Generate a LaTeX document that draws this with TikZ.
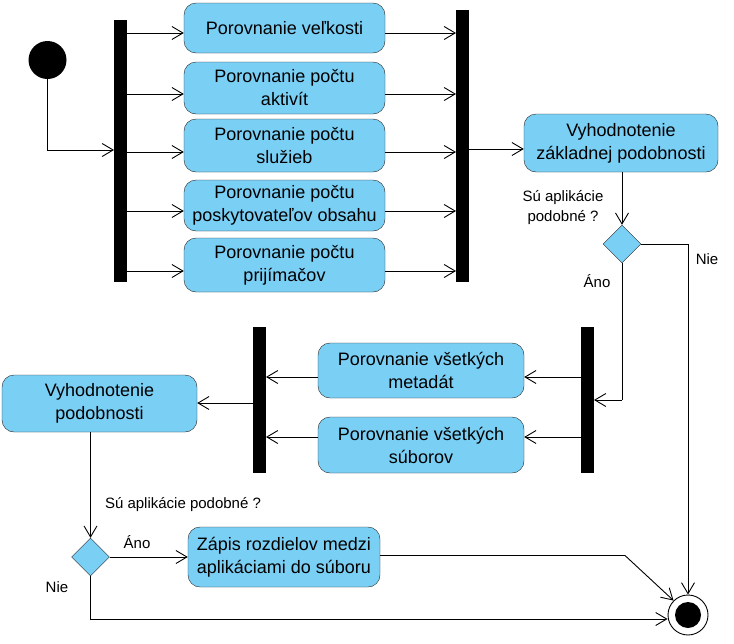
\documentclass[tikz,border=0pt]{standalone}
\usepackage{fontspec}
\setmainfont{Liberation Sans}
\usetikzlibrary{arrows.meta,shapes.geometric}
\definecolor{actblue}{RGB}{122,207,245}

\tikzset{
  activity/.style={draw=black!85,fill=actblue,rounded corners=12pt,align=center,
    font=\fontsize{18}{23}\selectfont,inner sep=0pt},
  bar/.style={fill=black,draw=none},
  decision/.style={diamond,draw=black!85,fill=actblue,minimum width=38pt,minimum height=38pt,inner sep=0pt},
  flow/.style={-{Straight Barb[length=11pt,width=13pt]},line width=0.9pt},
  guard/.style={font=\fontsize{15}{20}\selectfont,align=center},
}

\begin{document}
\begin{tikzpicture}[x=1pt,y=-1pt]
\useasboundingbox (0,0) rectangle (734,643);

% start, end
\node[circle,fill=black,minimum size=38pt,inner sep=0pt] (start) at (47.5,60) {};
\node[circle,draw=black,line width=0.9pt,fill=white,minimum size=40pt,inner sep=0pt] (final) at (688,615) {};
\fill (final) circle (13pt);

% fork / join bars
\fill[bar] (114,20) rectangle (127,282);
\fill[bar] (456,10) rectangle (469,282);
\fill[bar] (581,327) rectangle (594,473);
\fill[bar] (253,327) rectangle (266,473);

% first block of activities
\node[activity,minimum width=201pt,minimum height=50pt] (size) at (284.5,28) {Porovnanie veľkosti};
\node[activity,minimum width=201pt,minimum height=52pt] (act) at (284.5,88) {Porovnanie počtu\\aktivít};
\node[activity,minimum width=201pt,minimum height=53pt] (serv) at (284.5,145.5) {Porovnanie počtu\\služieb};
\node[activity,minimum width=201pt,minimum height=51pt] (prov) at (284.5,205.5) {Porovnanie počtu\\poskytovateľov obsahu};
\node[activity,minimum width=201pt,minimum height=54pt] (recv) at (284.5,265) {Porovnanie počtu\\prijímačov};

\node[activity,minimum width=194pt,minimum height=58pt] (basic) at (621,143) {Vyhodnotenie\\základnej podobnosti};
\node[decision] (dec1) at (622,244) {};

% second block
\node[activity,minimum width=206pt,minimum height=55pt] (meta) at (421,370.5) {Porovnanie všetkých\\metadát};
\node[activity,minimum width=206pt,minimum height=56pt] (files) at (421,445) {Porovnanie všetkých\\súborov};
\node[activity,minimum width=195pt,minimum height=57pt] (eval) at (99.5,403.5) {Vyhodnotenie\\podobnosti};
\node[decision] (dec2) at (90.5,557) {};
\node[activity,minimum width=192pt,minimum height=60pt] (write) at (284,557) {Zápis rozdielov medzi\\aplikáciami do súboru};

% guards
\node[guard] (g1) at (563,208) {Sú aplikácie\\podobné ?};
\node[guard] (yes1) at (597,281) {Áno};
\node[guard] (no1) at (707,259) {Nie};
\node[guard] (g2) at (183,505) {Sú aplikácie podobné ?};
\node[guard] (yes2) at (137,542) {Áno};
\node[guard] (no2) at (57,587) {Nie};

% flows
\draw[flow] (start.south) |- (114,150);
\foreach \n/\y in {size/33,act/94,serv/152,prov/211,recv/271}{
  \draw[flow] (127,\y) -- (\n.west |- 0,\y);
  \draw[flow] (\n.east |- 0,\y) -- (456,\y);
}
\draw[flow] (469,149) -- (basic.west |- 0,149);
\draw[flow] (basic.south -| dec1) -- (dec1.north);
\draw[line width=0.9pt] (dec1.south) -- (622,400);
\draw[flow] (622,400) -- (594,400);
\draw[flow] (dec1.east) -| (final.north);
\draw[flow] (581,377) -- (meta.east |- 0,377);
\draw[flow] (581,437) -- (files.east |- 0,437);
\draw[flow] (meta.west |- 0,377) -- (266,377);
\draw[flow] (files.west |- 0,437) -- (266,437);
\draw[flow] (253,403) -- (eval.east |- 0,403);
\draw[flow] (eval.south -| dec2) -- (dec2.north);
\draw[flow] (dec2.east) -- (write.west);
\draw[flow] (write.east |- 0,555.5) -- (625,555.5) -- (final.north west);
\draw[flow] (dec2.south) |- (final.west |- 0,619);
\end{tikzpicture}
\end{document}
